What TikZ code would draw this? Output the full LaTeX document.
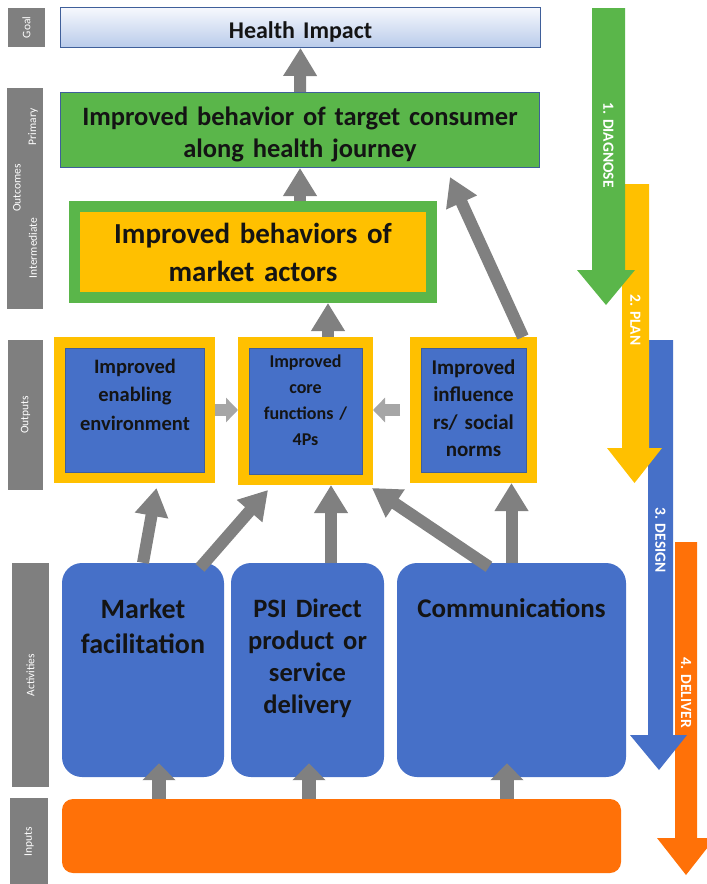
\documentclass[tikz,border=0pt]{standalone}
\usepackage{fontspec}
\setmainfont{Carlito}
\usetikzlibrary{arrows.meta,calc}
\definecolor{mkgreen}{HTML}{5AB64A}
\definecolor{mkyellow}{HTML}{FFC000}
\definecolor{mkblue}{HTML}{4670C8}
\definecolor{mkorange}{HTML}{FF7108}
\definecolor{mkgray}{HTML}{808080}
\definecolor{mklight}{HTML}{A6A6A6}
\definecolor{sidegray}{HTML}{7F7F7F}
\definecolor{ink}{HTML}{141414}
\definecolor{edgeblue}{HTML}{3F5F9A}
\definecolor{goaltop}{HTML}{F6F8FD}
\definecolor{goalbot}{HTML}{B9CBEA}
\begin{document}
\begin{tikzpicture}[x=1pt,y=-1pt,
  sidebox/.style={fill=sidegray, draw=none, inner sep=0pt},
  sidetext/.style={text=white, font=\fontsize{11.5}{12}\selectfont, rotate=90, inner sep=0pt},
  txt/.style={text=ink, font=\bfseries, align=center, inner sep=0pt, anchor=base, text width=#1},
  txt/.default=300pt,
  outbox/.style={draw=mkyellow, line width=11pt, fill=mkblue, inner sep=0pt},
  actbox/.style={fill=mkblue, rounded corners=20pt, inner sep=0pt},
  fat/.style={draw=mkgray, line width=12pt, -{Triangle[width=32pt,length=28pt]}},
  infat/.style={draw=mkgray, line width=14pt, -{Triangle[width=32pt,length=17pt]}},
  side/.style={draw=mklight, line width=12pt, -{Triangle[width=24pt,length=12pt]}},
  steptext/.style={text=white, font=\bfseries\fontsize{15.5}{17}\selectfont, rotate=-90, inner sep=0pt}
]
\useasboundingbox (0,0) rectangle (707,884);

% ---- level labels on the left
\node[sidebox, minimum width=37pt, minimum height=39pt] (sgoal) at (26.5,27.5) {};
\node[sidetext] (tgoal) at (sgoal) {Goal};
\node[sidebox, minimum width=36pt, minimum height=221pt] (soutc) at (25,198.5) {};
\node[sidetext] (toutc) at (17,188) {Outcomes};
\node[sidetext] (tprimary) at (33,127) {Primary};
\node[sidetext] (tinterm) at (33,248) {Intermediate};
\node[sidebox, minimum width=35pt, minimum height=150pt] (soutp) at (25.5,415) {};
\node[sidetext] (toutp) at (soutp) {Outputs};
\node[sidebox, minimum width=37pt, minimum height=224pt] (sact) at (30.5,675) {};
\node[sidetext] (tact) at (sact) {Activities};
\node[sidebox, minimum width=38pt, minimum height=90pt] (sinp) at (29,843) {};
\node[sidetext] (tinp) at (29,842) {Inputs};

% ---- process steps on the right
\fill[mkorange] (675,542) -- (697,542) -- (697,838) -- (715,838) -- (686,875) -- (657,838) -- (675,838) -- cycle;
\node[steptext] (s4) at (686,693) {4. DELIVER};
\fill[mkblue] (648,340) -- (673,340) -- (673,735) -- (687,735) -- (659,770) -- (630,735) -- (648,735) -- cycle;
\node[steptext] (s3) at (660.5,540) {3. DESIGN};
\fill[mkyellow] (622,184) -- (649,184) -- (649,448) -- (662,448) -- (634.5,483) -- (607,448) -- (622,448) -- cycle;
\node[steptext] (s2) at (635.5,320) {2. PLAN};
\fill[mkgreen] (592,8) -- (625,8) -- (625,270) -- (635,270) -- (606,305) -- (577,270) -- (592,270) -- cycle;
\node[steptext] (s1) at (608.5,145) {1. DIAGNOSE};

% ---- goal and outcomes
\node[draw=edgeblue, line width=1pt, top color=goaltop, bottom color=goalbot,
      minimum width=480pt, minimum height=40pt, inner sep=0pt] (goal) at (300.5,27.5) {};
\node[txt, font=\bfseries\fontsize{24}{28}\selectfont] (tgoalbox) at (300.5,38) {Health Impact};

\node[draw=edgeblue, line width=1pt, fill=mkgreen,
      minimum width=479pt, minimum height=75pt, inner sep=0pt] (prim) at (300,130) {};
\node[txt=470pt, font=\bfseries\fontsize{26.5}{32}\selectfont] (tprim) at (300,125)
  {Improved behavior of target consumer\\along health journey};

\node[draw=mkgreen, line width=11pt, fill=mkyellow,
      minimum width=357pt, minimum height=91pt, inner sep=0pt] (inter) at (253,252) {};
\node[txt, font=\bfseries\fontsize{29}{38}\selectfont] (tinter) at (253,243)
  {Improved behaviors of\\market actors};

% ---- outputs
\node[outbox, minimum width=150pt, minimum height=135pt] (o1) at (134.5,410) {};
\node[outbox, minimum width=124pt, minimum height=137pt] (o2) at (305.5,411) {};
\node[outbox, minimum width=116pt, minimum height=135pt] (o3) at (473.5,410) {};
\foreach \b in {o1,o2,o3}
  \draw[edgeblue, line width=0.8pt] ([shift={(11,11)}]\b.north west) rectangle ([shift={(-11,-11)}]\b.south east);
\node[txt=140pt, font=\bfseries\fontsize{20.5}{28.5}\selectfont] (to1) at (135,373)
  {Improved\\enabling\\environment};
\node[txt=115pt, font=\bfseries\fontsize{18}{26}\selectfont] (to2) at (305.5,367)
  {Improved\\core\\functions /\\4Ps};
\node[txt=110pt, font=\bfseries\fontsize{21}{27.5}\selectfont] (to3) at (473.5,374)
  {Improved\\influence\\rs/ social\\norms};

% ---- activities and inputs
\node[actbox, minimum width=162pt, minimum height=214pt] (a1) at (143,670) {};
\node[actbox, minimum width=153pt, minimum height=214pt] (a2) at (307.5,670) {};
\node[actbox, minimum width=229pt, minimum height=214pt] (a3) at (511.5,670) {};
\node[fill=mkorange, rounded corners=11pt, minimum width=559pt, minimum height=74pt, inner sep=0pt] (inp) at (341.5,836) {};
\node[txt=155pt, font=\bfseries\fontsize{28}{35}\selectfont] (ta1) at (143,618)
  {Market\\facilitation};
\node[txt=150pt, font=\bfseries\fontsize{26.5}{32}\selectfont] (ta2) at (307.5,617)
  {PSI Direct\\product or\\service\\delivery};
\node[txt=225pt, font=\bfseries\fontsize{27}{33}\selectfont] (ta3) at (511.5,617)
  {Communications};

% ---- connectors
\draw[fat] (prim.north) -- (goal.south);
\draw[fat] (inter.north -| prim.south) -- (prim.south);
\draw[fat] ([xshift=22.5pt]o2.north) -- ([xshift=22.5pt]o2.north |- inter.south);
\draw[fat] ([xshift=49.5pt]o3.north) -- ([xshift=150pt,yshift=-9pt]prim.south);

\draw[side] (o1.east) -- (o1.east -| o2.west);
\draw[side] ([xshift=-10pt]o3.west) -- (o3.west -| o2.east);

\draw[fat] (a1.north) -- ([xshift=22pt,yshift=-5pt]o1.south);
\draw[fat] ([xshift=57pt,yshift=-5pt]a1.north) -- ([xshift=-37.5pt,yshift=-5pt]o2.south);
\draw[fat] ([xshift=23.5pt]a2.north) -- ([xshift=23.5pt]a2.north |- o2.south);
\draw[fat] ([xshift=-22.5pt,yshift=-4pt]a3.north) -- ([xshift=-1pt,yshift=-3pt]o2.south east);
\draw[fat] (a3.north) -- (a3.north |- o3.south);

\draw[infat] ([xshift=16pt]a1.south |- inp.north) -- ([xshift=16pt,yshift=14pt]a1.south);
\draw[infat] ([xshift=1.5pt]a2.south |- inp.north) -- ([xshift=1.5pt,yshift=14pt]a2.south);
\draw[infat] ([xshift=-4.5pt]a3.south |- inp.north) -- ([xshift=-4.5pt,yshift=14pt]a3.south);
\end{tikzpicture}
\end{document}
